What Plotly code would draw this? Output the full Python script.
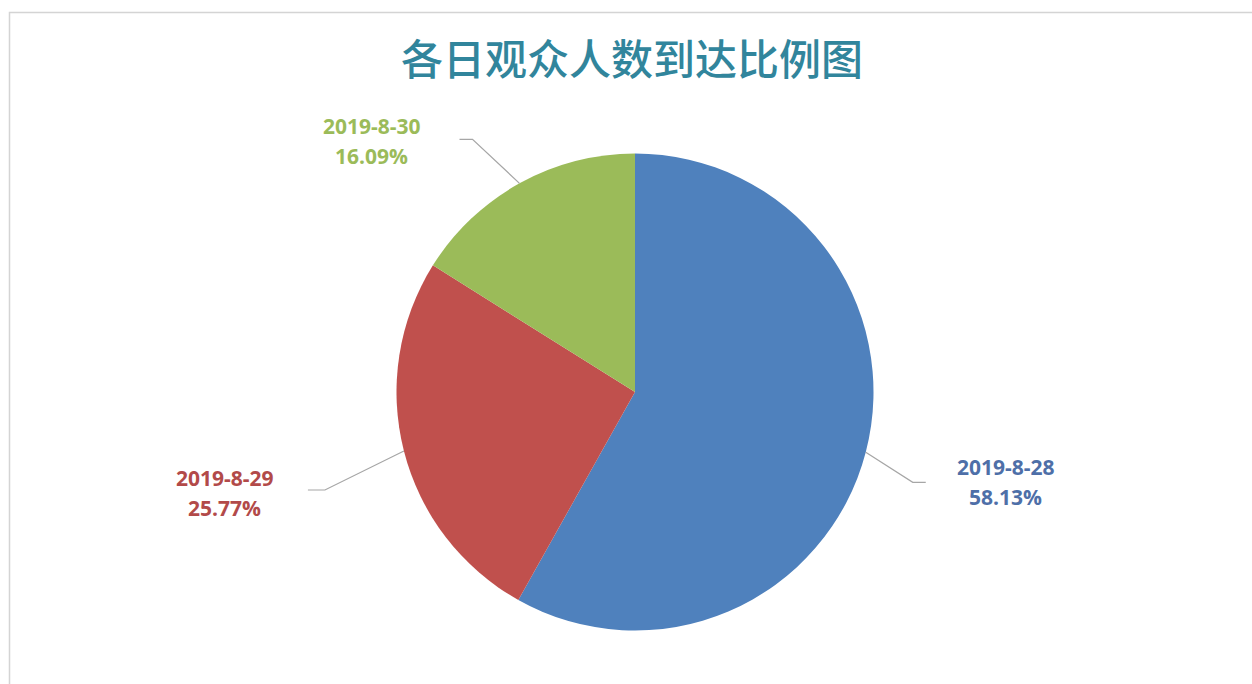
import math
import plotly.graph_objects as go

# Daily audience share
dates = ["2019-8-28", "2019-8-29", "2019-8-30"]
shares = [58.13, 25.77, 16.09]
slice_colors = ["#4F81BD", "#C0504D", "#9BBB59"]
label_colors = ["#4E6FA8", "#B24A49", "#9BBB59"]
title_text = "各日观众人数到达比例图"

# Canvas and pie geometry (pixels)
W, H = 1252, 684
cx, cy, R = 635, 392, 238.5

# Leader-line layout per slice: edge -> elbow offset, horizontal tail, label block centre offset from elbow
elbow_off = [(47, 30), (-79, 39), (-47, -44)]
tail_len = [13, -17, -13]
label_off = [(93, 0), (-100, 3), (-101, 2)]
line_gap = 30


def px(x):
    return x / W


def py(y):
    return 1 - y / H


fig = go.Figure(
    go.Pie(
        labels=dates,
        values=shares,
        sort=False,
        direction="clockwise",
        rotation=0,
        marker=dict(colors=slice_colors, line=dict(width=0)),
        textinfo="none",
        hoverinfo="label+percent",
        domain=dict(x=[px(cx - R), px(cx + R)], y=[py(cy + R), py(cy - R)]),
        showlegend=False,
    )
)

shapes = []
annotations = []
total = sum(shares)
start = 0.0
for i, (d, v) in enumerate(zip(dates, shares)):
    mid = (start + v / 2) / total * 2 * math.pi
    start += v
    ex = cx + R * math.sin(mid)
    ey = cy - R * math.cos(mid)
    bx = ex + elbow_off[i][0]
    by = ey + elbow_off[i][1]
    tx = bx + tail_len[i]
    path = f"M {px(ex)} {py(ey)} L {px(bx)} {py(by)} L {px(tx)} {py(by)}"
    shapes.append(dict(type="path", xref="paper", yref="paper", path=path,
                       line=dict(color="#A6A6A6", width=1.2)))
    lx = bx + label_off[i][0]
    ly = by + label_off[i][1]
    for k, txt in enumerate([d, f"{v:.2f}%"]):
        annotations.append(dict(
            x=px(lx), y=py(ly + (k - 0.5) * line_gap), xref="paper", yref="paper",
            text=f"<b>{txt}</b>", showarrow=False, xanchor="center", yanchor="middle",
            font=dict(family="Open Sans, Liberation Sans, sans-serif", size=21,
                      color=label_colors[i]),
        ))

# Chart frame
shapes.append(dict(type="rect", xref="paper", yref="paper",
                   x0=px(9.5), x1=px(W + 20), y0=py(H + 20), y1=py(12.5),
                   line=dict(color="#D4D4D4", width=1.5), layer="below"))

annotations.append(dict(
    x=px(632), y=py(56), xref="paper", yref="paper", text=title_text,
    showarrow=False, xanchor="center", yanchor="middle",
    font=dict(family="Noto Sans CJK SC", size=42, color="#31859C", weight=500),
))

fig.update_layout(
    width=W, height=H,
    margin=dict(l=0, r=0, t=0, b=0),
    paper_bgcolor="white",
    plot_bgcolor="white",
    shapes=shapes,
    annotations=annotations,
)

fig.write_html("out.html")
